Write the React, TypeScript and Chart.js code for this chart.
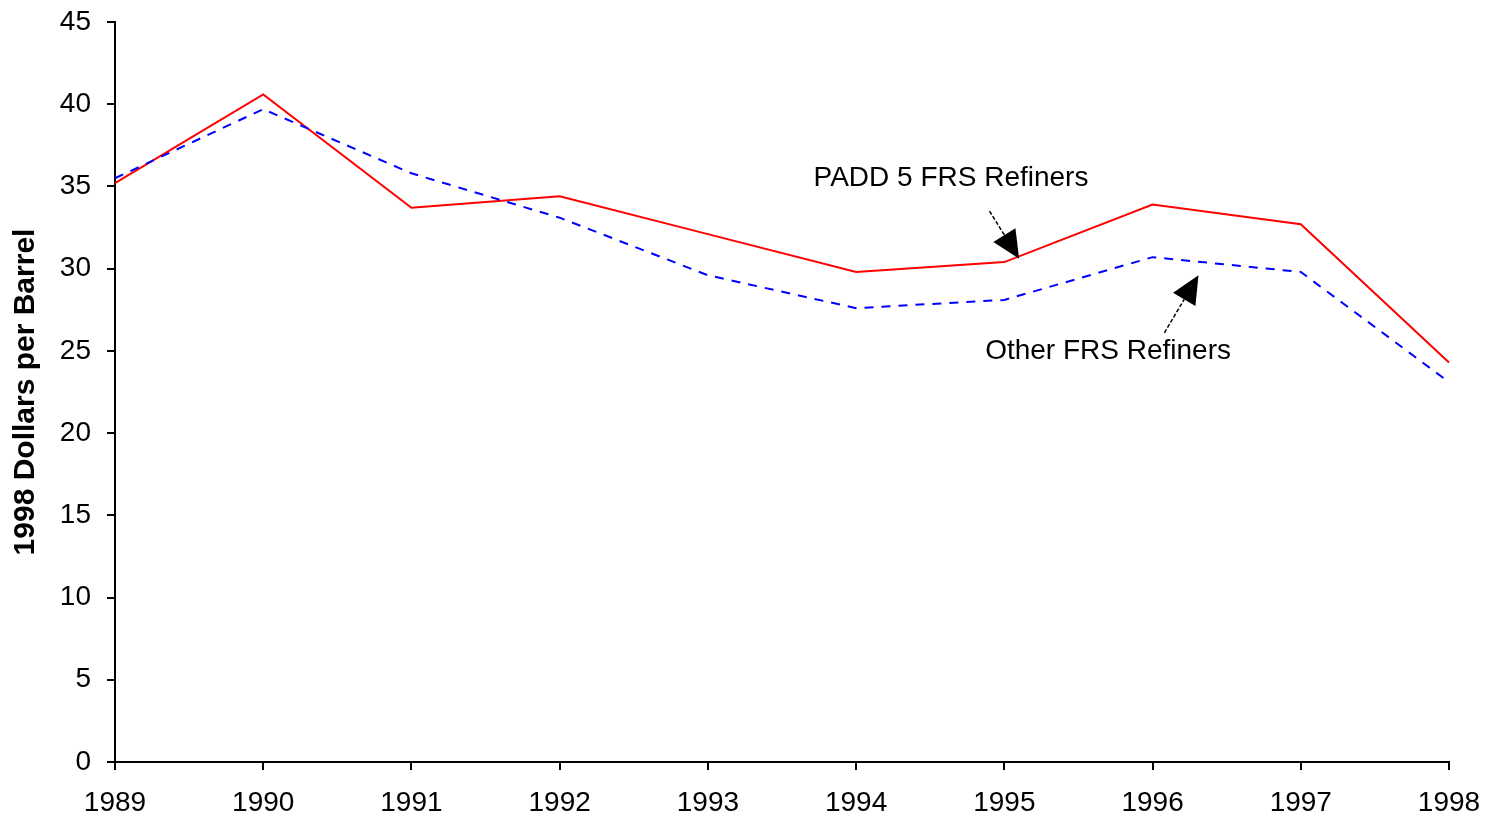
import React, { useEffect, useRef } from "react";
import { Chart, registerables } from "chart.js";
Chart.register(...registerables);

const years = ["1989", "1990", "1991", "1992", "1993", "1994", "1995", "1996", "1997", "1998"];
const padd5Values = [35.2, 40.6, 33.7, 34.4, 32.1, 29.8, 30.4, 33.9, 32.7, 24.3];
const otherValues = [35.5, 39.7, 35.8, 33.1, 29.6, 27.6, 28.1, 30.7, 29.8, 23.1];
const yTicks = [0, 5, 10, 15, 20, 25, 30, 35, 40, 45];

// annotations in data units: [x index, y value]
const annotations = [
  { text: "PADD 5 FRS Refiners", label: [5.64, 35.5], from: [5.9, 33.5], to: [6.1, 30.6] },
  { text: "Other FRS Refiners", label: [6.7, 25.0], from: [7.08, 26.1], to: [7.31, 29.6] },
];

const FONT = "'Liberation Sans', Arial, sans-serif";

const annotationPlugin = {
  id: "arrowAnnotations",
  afterDatasetsDraw(chart: any) {
    const { ctx, scales } = chart;
    const xs = scales.x;
    const ys = scales.y;
    const px = (i: number) => xs.left + (i / (years.length - 1)) * (xs.right - xs.left);
    ctx.save();
    for (const a of annotations) {
      ctx.font = `28px ${FONT}`;
      ctx.fillStyle = "#000";
      ctx.textAlign = "center";
      ctx.textBaseline = "middle";
      ctx.fillText(a.text, px(a.label[0]), ys.getPixelForValue(a.label[1]));
      const x1 = px(a.from[0]), y1 = ys.getPixelForValue(a.from[1]);
      const x2 = px(a.to[0]), y2 = ys.getPixelForValue(a.to[1]);
      const ang = Math.atan2(y2 - y1, x2 - x1);
      const headLen = 28, headW = 13;
      const bx = x2 - headLen * Math.cos(ang), by = y2 - headLen * Math.sin(ang);
      ctx.strokeStyle = "#000";
      ctx.lineWidth = 1.5;
      ctx.setLineDash([4, 2]);
      ctx.beginPath();
      ctx.moveTo(x1, y1);
      ctx.lineTo(bx, by);
      ctx.stroke();
      ctx.setLineDash([]);
      ctx.beginPath();
      ctx.moveTo(x2, y2);
      ctx.lineTo(bx + headW * Math.sin(ang), by - headW * Math.cos(ang));
      ctx.lineTo(bx - headW * Math.sin(ang), by + headW * Math.cos(ang));
      ctx.closePath();
      ctx.fill();
    }
    ctx.restore();
  },
};

export default function App() {
  const ref = useRef<HTMLCanvasElement>(null);
  useEffect(() => {
    document.body.style.margin = "0";
    const chart = new Chart(ref.current!, {
      type: "line",
      data: {
        labels: years,
        datasets: [
          {
            label: "Other FRS Refiners",
            data: otherValues,
            borderColor: "#0000FF",
            borderWidth: 2,
            borderDash: [9, 8],
            pointRadius: 0,
            tension: 0,
          },
          {
            label: "PADD 5 FRS Refiners",
            data: padd5Values,
            borderColor: "#FF0000",
            borderWidth: 2,
            pointRadius: 0,
            tension: 0,
          },
        ],
      },
      options: {
        responsive: false,
        animation: false,
        layout: { padding: { left: 0, right: 48, top: 22, bottom: 0 } },
        plugins: { legend: { display: false }, tooltip: { enabled: false } },
        scales: {
          x: {
            type: "category",
            offset: false,
            grid: { drawOnChartArea: false, color: "#000", tickLength: 8, lineWidth: 2 },
            border: { color: "#000", width: 2 },
            ticks: { color: "#000", font: { family: FONT, size: 28 }, padding: 16, maxRotation: 0, autoSkip: false },
            afterFit: (s: any) => { s.height = 60; s.paddingLeft = 0; s.paddingRight = 0; },
          },
          y: {
            min: 0,
            max: 45,
            afterBuildTicks: (s: any) => { s.ticks = yTicks.map((v) => ({ value: v })); },
            grid: { drawOnChartArea: false, color: "#000", tickLength: 8, lineWidth: 2 },
            border: { color: "#000", width: 2 },
            ticks: { color: "#000", font: { family: FONT, size: 28 }, padding: 16 },
            title: {
              display: true,
              text: "1998 Dollars per Barrel",
              color: "#000",
              font: { family: FONT, size: 30, weight: "bold" },
              padding: { top: 8, bottom: 0 },
            },
            afterFit: (s: any) => { s.width = 115; s.paddingTop = 0; s.paddingBottom = 0; },
          },
        },
      },
      plugins: [annotationPlugin],
    });
    return () => chart.destroy();
  }, []);
  return <canvas ref={ref} width={1497} height={822} style={{ display: "block" }} />;
}
